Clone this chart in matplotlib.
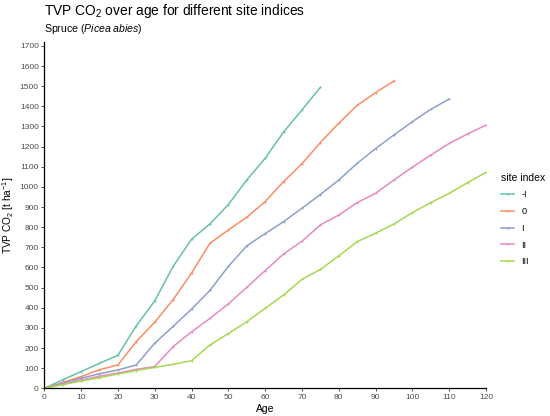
import numpy as np
import matplotlib
matplotlib.use("Agg")
import matplotlib.pyplot as plt

plt.rcParams['font.family'] = ['Liberation Sans', 'DejaVu Sans']
plt.rcParams['mathtext.fontset'] = 'custom'
plt.rcParams['mathtext.rm'] = 'Liberation Sans'
plt.rcParams['mathtext.it'] = 'Liberation Sans:italic'

# --- data ---
site_index = ["-I", "0", "I", "II", "III"]
farben = ["#66C2A5", "#FC8D62", "#8DA0CB", "#E78AC3", "#A6D854"]

alter_m1 = [0, 5, 10, 15, 20, 25, 30, 35, 40, 45, 50, 55, 60, 65, 70, 75]
tvp_m1 = [0, 42, 83, 124, 164, 310, 434, 605, 740, 816, 912, 1034, 1142, 1272, 1382, 1494]

alter_0 = [0, 5, 10, 15, 20, 25, 30, 35, 40, 45, 50, 55, 60, 65, 70, 75, 80, 85, 90, 95]
tvp_0 = [0, 29, 58, 92, 116, 232, 328, 440, 572, 720, 786, 849, 927, 1026, 1115, 1220,
         1316, 1405, 1468, 1526]

alter_1 = [0, 5, 10, 15, 20, 25, 30, 35, 40, 45, 50, 55, 60, 65, 70, 75, 80, 85, 90,
           95, 100, 105, 110]
tvp_1 = [0, 25, 50, 72, 91, 116, 224, 307, 393, 486, 605, 707, 768, 827, 894, 962,
         1034, 1117, 1190, 1258, 1324, 1385, 1436]

alter_2 = [0, 5, 10, 15, 20, 25, 30, 35, 40, 45, 50, 55, 60, 65, 70, 75, 80, 85, 90,
           95, 100, 105, 110, 115, 120]
tvp_2 = [0, 20, 41, 60, 76, 94, 108, 207, 280, 347, 419, 501, 584, 667, 730, 811,
         860, 922, 968, 1034, 1098, 1158, 1216, 1263, 1307]

alter_3 = [0, 5, 10, 15, 20, 25, 30, 35, 40, 45, 50, 55, 60, 65, 70, 75, 80, 85, 90,
           95, 100, 105, 110, 115, 120]
tvp_3 = [0, 18, 36, 53, 71, 88, 104, 119, 137, 215, 272, 330, 397, 463, 541, 590,
         657, 728, 770, 816, 872, 922, 968, 1021, 1072]

reihen = [(alter_m1, tvp_m1), (alter_0, tvp_0), (alter_1, tvp_1),
          (alter_2, tvp_2), (alter_3, tvp_3)]

fig = plt.figure(figsize=(5.5, 4.16), dpi=100)
ax = fig.add_axes([0.0805, 0.0666, 0.8031, 0.8332])

for (x, y), name, farbe in zip(reihen, site_index, farben):
    ax.plot(x, y, color=farbe, lw=1.1, marker='o', markersize=1.4,
            markeredgewidth=0, label=name)

ax.set_xlim(0, 120)
ax.set_ylim(0, 1721)
ax.set_xticks(np.arange(0, 121, 10))
ax.set_yticks(np.arange(0, 1701, 100))

for side in ["top", "right"]:
    ax.spines[side].set_visible(False)
for side in ["left", "bottom"]:
    ax.spines[side].set_linewidth(0.9)
    ax.spines[side].set_color("black")
ax.tick_params(axis="both", length=2.5, width=0.6, color="#333333",
               labelsize=6, labelcolor="#4D4D4D", pad=1.5)

ax.set_xlabel("Age", fontsize=7.5, labelpad=2)
ax.set_ylabel(r"TVP CO$_2$ [t ha$^{-1}$]", fontsize=7.3)
# y-Beschriftung fest platzieren, sonst am Rand abgeschnitten
ax.yaxis.set_label_coords(-0.063, 0.5, transform=ax.transAxes)

fig.text(0.0805, 0.973, r"TVP CO$_2$ over age for different site indices",
         fontsize=9.9, va="center", ha="left")
fig.text(0.0805, 0.930, r"Spruce ($\it{Picea\ abies}$)",
         fontsize=7.6, va="center", ha="left")

leg = ax.legend(title="site index", loc="center left", bbox_to_anchor=(1.015, 0.487),
                frameon=False, fontsize=6.5, title_fontsize=7.5, handlelength=1.5,
                handletextpad=0.8, labelspacing=0.85, alignment="left")

plt.savefig("out.png", dpi=100)
plt.close()
